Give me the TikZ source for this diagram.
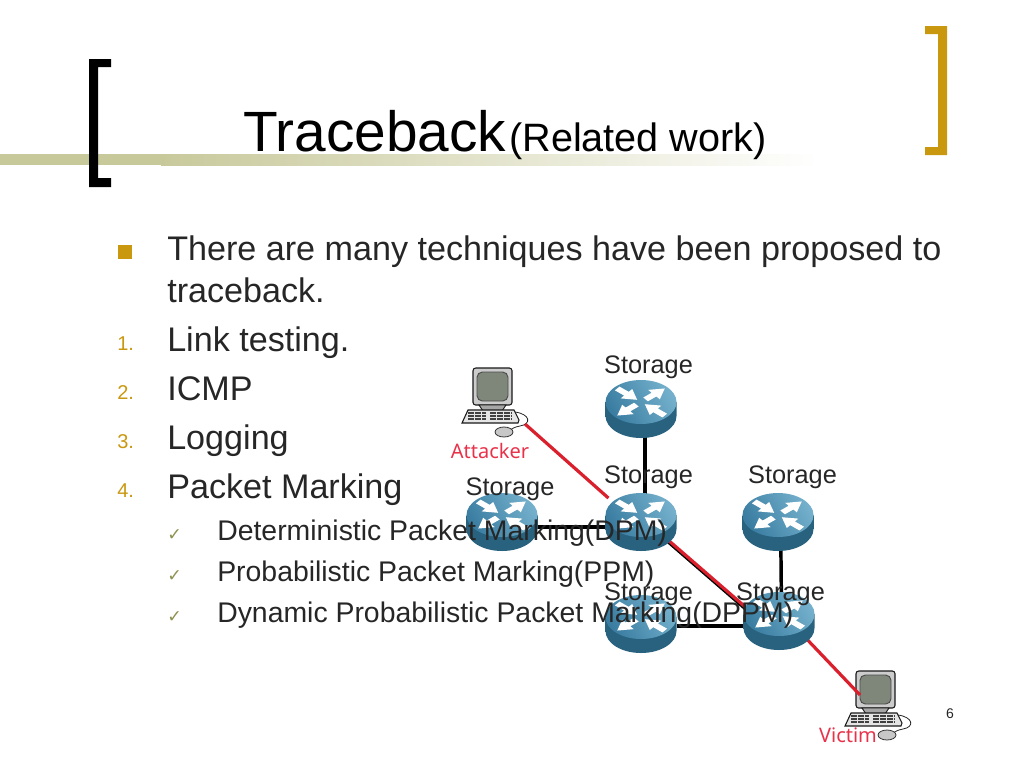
\documentclass[tikz,border=0pt]{standalone}
\usepackage{fontspec}
\setmainfont{Liberation Sans}
\newfontfamily\checkfont{DejaVu Sans}
\newfontfamily\labelfont{Noto Sans}
\definecolor{gold}{HTML}{C9980F}
\definecolor{barc}{HTML}{C8C99B}
\definecolor{bodyc}{HTML}{262626}
\definecolor{olive}{HTML}{8E9150}
\definecolor{linkred}{HTML}{D9202C}
\definecolor{labelred}{HTML}{E8324A}
\definecolor{rdark}{HTML}{28627F}
\definecolor{rmid}{HTML}{5C9CBA}
\definecolor{rtopa}{HTML}{3A7DA1}
\definecolor{rtopb}{HTML}{74B0CC}
\definecolor{screenc}{HTML}{7E877A}
\tikzset{
  ttl/.style={anchor=base west,inner sep=0pt,text=black},
  bodytext/.style={anchor=base west,inner sep=0pt,text=bodyc,font=\fontsize{25.6}{30}\selectfont},
  subtext/.style={anchor=base west,inner sep=0pt,text=bodyc,font=\fontsize{21.3}{25}\selectfont},
  numtext/.style={anchor=base west,inner sep=0pt,text=gold,font=\fontsize{15}{18}\selectfont},
  checkmk/.style={anchor=base west,inner sep=0pt,text=olive,font=\checkfont\fontsize{13}{15}\selectfont},
  storelabel/.style={anchor=base,inner sep=0pt,text=bodyc,font=\fontsize{19}{23}\selectfont},
  pclabel/.style={anchor=base,inner sep=0pt,text=labelred,font=\labelfont\fontsize{15}{18}\selectfont},
  blackline/.style={draw=black,line width=2.6pt},
  redline/.style={draw=linkred,line width=2.4pt},
  routerbox/.style={inner sep=0pt,minimum width=53pt,minimum height=43pt},
  pcbox/.style={inner sep=0pt,minimum width=46pt,minimum height=52pt},
  routerart/.pic={
    \path[left color=rdark,middle color=rmid,right color=rdark]
      (-35.5,-7) -- (-35.5,7) arc[start angle=180,end angle=0,x radius=35.5,y radius=22] -- (35.5,-7) -- cycle;
    \path[left color=rtopb,right color=rtopa,shading angle=-60] (0,-7) ellipse[x radius=35.5,y radius=22];
    \foreach \a/\f in {40/1,140/0,220/1,320/0}{
      \begin{scope}[shift={(0,-7)},yscale=.68,rotate=\a]
        \ifnum\f=1
          \fill[white] (6,-3.6) -- (17,-3.6) -- (17,-9) -- (31,0) -- (17,9) -- (17,3.6) -- (6,3.6) -- cycle;
        \else
          \fill[white] (31,-3.6) -- (19,-3.6) -- (19,-9) -- (5,0) -- (19,9) -- (19,3.6) -- (31,3.6) -- cycle;
        \fi
      \end{scope}
    }
  },
  pcart/.pic={
    \filldraw[fill=black!20,draw=black!90,line width=.8pt,rounded corners=2pt] (11,0) rectangle (50,37);
    \filldraw[fill=screenc,draw=black!70,line width=.7pt,rounded corners=4pt] (15,4) rectangle (46,33);
    \filldraw[fill=black!35,draw=black!90,line width=.7pt] (17,37) -- (44,37) -- (40,43) -- (21,43) -- cycle;
    \filldraw[fill=black!10,draw=black!90,line width=.8pt] (0,55) -- (6,42) -- (52,42) -- (57,52) -- (56,55) -- cycle;
    \foreach \yy in {45,48,51}{\draw[black!75,line width=1.3pt,dash pattern=on 2pt off .6pt] (6,\yy) -- (24,\yy) (28,\yy) -- (50,\yy);}
    \draw[black!85,line width=.6pt] (53,44) .. controls (68,46) and (70,56) .. (58,58) .. controls (52,59) and (50,61) .. (48,62);
    \filldraw[fill=black!22,draw=black!80,line width=.6pt] (42,64) ellipse[x radius=9,y radius=5];
  }
}
\begin{document}
\begin{tikzpicture}[x=.75pt,y=-.75pt]
\useasboundingbox (0,0) rectangle (1024,768);
% header bar and brackets
\fill[barc] (0,154) rectangle (161,165);
\path[left color=barc,right color=white] (161,154) rectangle (820,165);
\fill[black] (89,59) -- (111,59) -- (111,67) -- (98,67) -- (98,178) -- (111,178) -- (111,187) -- (89,187) -- cycle;
\fill[gold] (925,26) -- (947,26) -- (947,155) -- (925,155) -- (925,147) -- (938,147) -- (938,34) -- (925,34) -- cycle;
% title
\node[ttl,font=\fontsize{42.6}{50}\selectfont] (title) at (243,151) {Traceback};
\node[ttl,font=\fontsize{29.7}{36}\selectfont] (titlesub) at (509,151) {(Related work)};
% bullets
\fill[gold] (118,245) rectangle (132,259);
\node[bodytext] (t1) at (167,260) {There are many techniques have been proposed to};
\node[bodytext] (t2) at (167,302) {traceback.};
\node[numtext] (n1) at (117,350) {1.};
\node[bodytext] (t3) at (167,351) {Link testing.};
\node[numtext] (n2) at (117,399) {2.};
\node[bodytext] (t4) at (167,400) {ICMP};
\node[numtext] (n3) at (117,448) {3.};
\node[bodytext] (t5) at (167,449) {Logging};
\node[numtext] (n4) at (117,497) {4.};
\node[bodytext] (t6) at (167,498) {Packet Marking};
% network nodes
\node[routerbox] (r1) at (641,414) {};
\node[routerbox] (r2) at (641,527) {};
\node[routerbox] (r3) at (502,527) {};
\node[routerbox] (r4) at (778,527) {};
\node[routerbox] (r5) at (641,626) {};
\node[routerbox] (r6) at (779,626) {};
\node[pcbox] (attacker) at (492,400) {};
\node[pcbox] (victim) at (877,702) {};
\coordinate (attackerport) at (525,424);
\coordinate (victimport) at (860,695);
\coordinate (rtwoout) at (660,533);
\coordinate (rsixin) at (750,611);
\coordinate (rsixout) at (800,632);
% computer art
\pic at (462,368) {pcart};
\begin{scope}[shift={(845,671)},scale=.95]\pic at (0,0) {pcart};\end{scope}
% connectors
\draw[blackline] ([xshift=3pt]r1.center) -- ([xshift=3pt]r2.center);
\draw[blackline] (r3) -- (r2);
\draw[blackline] ([xshift=2pt]r4.center) -- ([xshift=2pt]r6.center);
\draw[blackline] (r5) -- (r6);
\draw[black,line width=1.6pt] ([xshift=-.8pt,yshift=-1.2pt]rtwoout) -- ([xshift=-.8pt,yshift=-1.2pt]rsixin);
\draw[redline] (attackerport) -- (r2);
\draw[redline] (rtwoout) -- (rsixin);
\draw[redline] (rsixout) -- (victimport);
% router art
\pic at (641,409) {routerart};
\pic at (641,522) {routerart};
\pic at (502,522) {routerart};
\pic at (778,522) {routerart};
\pic at (641,624) {routerart};
\pic at (779,621) {routerart};
\node[pclabel] (lattacker) at (490,458) {Attacker};
\node[pclabel] (lvictim) at (848,742) {Victim};
% sub-bullets over the network
\node[checkmk] (c1) at (167,540) {✓};
\node[subtext] (s1) at (217,540) {Deterministic Packet Marking(DPM)};
\node[checkmk] (c2) at (167,581) {✓};
\node[subtext] (s2) at (217,581) {Probabilistic Packet Marking(PPM)};
\node[checkmk] (c3) at (167,622) {✓};
\node[subtext] (s3) at (217,622) {Dynamic Probabilistic Packet Marking(DPPM)};
% storage labels
\node[storelabel] (l1) at (648.5,373) {Storage};
\node[storelabel] (l2) at (648.5,483) {Storage};
\node[storelabel] (l3) at (510,495) {Storage};
\node[storelabel] (l4) at (792.5,483) {Storage};
\node[storelabel] (l5) at (648.5,600) {Storage};
\node[storelabel] (l6) at (780.5,600) {Storage};
\node[anchor=base,inner sep=0pt,text=bodyc,font=\fontsize{10.5}{12}\selectfont] (pageno) at (950,718) {6};
\end{tikzpicture}
\end{document}
